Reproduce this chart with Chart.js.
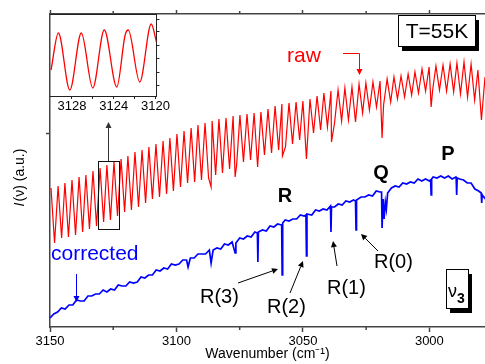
<!DOCTYPE html>
<html>
<head>
<meta charset="utf-8">
<script src="https://cdn.jsdelivr.net/npm/chart.js@4.4.0/dist/chart.umd.min.js"></script>
<style>
  html, body { margin: 0; padding: 0; background: #fff; }
  #wrap { position: relative; width: 485px; height: 364px; }
  #main, #inset { position: absolute; left: 0; top: 0; }
</style>
</head>
<body>
<div id="wrap">
  <canvas id="main" width="485" height="364"></canvas>
  <canvas id="inset" width="170" height="115"></canvas>
</div>
<script>
"use strict";

// raw spectrum: fringe maxima / minima (plus the absorption dips)
var rawWavenumber = [
  3149.6, 3148.2, 3146.8, 3145.4, 3144.1, 3142.7, 3141.3, 3139.9, 3138.5, 3137.1,
  3135.8, 3134.4, 3133.0, 3131.6, 3130.2, 3128.8, 3127.5, 3126.1, 3124.7, 3123.3,
  3121.9, 3120.5, 3119.2, 3117.8, 3116.4, 3115.0, 3113.6, 3112.2, 3110.9, 3109.5,
  3108.1, 3106.7, 3105.3, 3103.9, 3102.6, 3101.2, 3099.8, 3098.4, 3097.0, 3095.6,
  3094.2, 3092.8, 3091.5, 3090.1, 3088.7, 3087.3, 3086.3, 3085.9, 3084.5, 3083.2, 3081.8,
  3080.4, 3079.0, 3077.6, 3076.8, 3076.2, 3074.9, 3073.5, 3072.1, 3070.7,
  3069.3, 3067.9, 3066.6, 3065.2, 3063.8, 3062.4, 3061.0, 3059.6, 3058.3, 3058.1, 3056.9,
  3055.5, 3054.1, 3052.7, 3051.3, 3050.0, 3048.6, 3047.2, 3045.8, 3044.4, 3043.0,
  3041.7, 3040.3, 3038.9, 3038.7, 3037.5, 3036.1, 3034.7, 3033.4, 3032.0, 3030.6, 3029.2,
  3027.8, 3026.4, 3025.1, 3023.7, 3022.3, 3020.9, 3019.5, 3018.7, 3018.1, 3016.7, 3015.3,
  3014.0, 3012.6, 3011.2, 3009.8, 3008.4, 3007.0, 3005.7, 3004.3, 3002.9, 3001.5,
  3000.1, 2999.3, 2998.7, 2997.4, 2996.0, 2994.6, 2993.2, 2991.8, 2990.4, 2989.1, 2987.7,
  2986.3, 2984.9, 2983.5, 2982.1, 2980.8, 2979.4, 2978.0
];
var rawIntensity = [
  139, 84, 141, 89, 144, 90, 147, 92, 150, 95,
  152, 98, 156, 101, 159, 105, 162, 107, 165, 111,
  168, 115, 171, 117, 175, 120, 177, 124, 180, 128,
  183, 130, 186, 133, 189, 136, 193, 140, 196, 144,
  199, 145, 202, 147, 204, 149, 140, 206, 152, 208, 154,
  209, 158, 211, 150, 162, 212, 165, 213, 167,
  214, 160, 215, 172, 218, 174, 221, 177, 223, 171, 180,
  224, 183, 225, 187, 226, 168, 228, 194, 231, 197,
  234, 200, 236, 185, 204, 237, 206, 239, 207, 240, 205,
  243, 214, 244, 217, 245, 220, 246, 189, 222, 248, 225,
  250, 228, 251, 230, 253, 232, 255, 234, 258, 236,
  260, 220, 237, 261, 237, 262, 236, 263, 235, 264, 233,
  265, 230, 263, 227, 257, 207, 250
];

// corrected spectrum
var corrWavenumber = [
  3150.0, 3148.5, 3147.0, 3145.5, 3144.0, 3142.5, 3141.0, 3139.5, 3138.0, 3136.5,
  3135.0, 3133.5, 3132.0, 3130.5, 3129.0, 3127.5, 3126.0, 3124.5, 3123.0, 3121.5,
  3120.0, 3118.5, 3117.0, 3115.5, 3114.0, 3112.5, 3111.0, 3109.5, 3108.0, 3106.5,
  3105.0, 3103.5, 3102.0, 3100.5, 3099.0, 3097.5, 3096.0, 3095.4, 3094.5, 3093.0,
  3091.5, 3090.0, 3088.5, 3087.0, 3086.3, 3085.5, 3084.0, 3082.5, 3081.0, 3079.5,
  3078.0, 3076.8, 3076.5, 3075.0, 3073.5, 3072.0, 3070.5, 3069.0, 3068.0, 3067.8, 3067.6,
  3066.0, 3064.5, 3063.0, 3061.5, 3060.0, 3058.5, 3058.4, 3058.2, 3058.0, 3057.0, 3055.5, 3054.0,
  3052.5, 3051.0, 3049.5, 3048.8, 3048.6, 3048.4, 3046.5, 3045.0, 3043.5, 3042.0, 3040.5,
  3039.1, 3038.9, 3038.7, 3037.5, 3036.0, 3034.5, 3033.0, 3031.5, 3030.0, 3029.2, 3029.0, 3028.8,
  3027.0, 3025.5, 3024.0, 3022.5, 3021.0, 3019.5, 3018.9, 3018.7, 3018.3, 3017.9, 3017.4,
  3017.0, 3016.5, 3015.0, 3013.5, 3012.0, 3010.5, 3009.0, 3007.5, 3006.0, 3004.5,
  3003.0, 3001.5, 3000.0, 2999.5, 2999.3, 2999.1, 2998.5, 2997.0, 2995.5, 2994.0, 2992.5, 2991.0,
  2989.5, 2989.4, 2989.2, 2989.0, 2988.0, 2986.5, 2985.0, 2983.5, 2982.0, 2980.5, 2979.5, 2979.3, 2979.1,
  2977.5
];
var corrIntensity = [
  9, 13, 15, 19, 18, 22, 22, 27, 26, 26,
  31, 31, 33, 33, 37, 35, 38, 37, 42, 41,
  41, 45, 44, 45, 50, 49, 52, 52, 57, 56,
  59, 58, 63, 62, 63, 67, 67, 60, 69, 69,
  73, 73, 73, 77, 64, 77, 79, 78, 83, 82,
  85, 74, 84, 89, 88, 91, 90, 95, 94, 65, 95,
  97, 96, 101, 100, 103, 102, 103, 52, 104, 107, 106, 108,
  108, 112, 111, 112, 71, 113, 112, 117, 116, 118, 117,
  121, 95, 120, 120, 123, 122, 126, 125, 127, 126, 97, 127,
  130, 130, 132, 131, 136, 135, 135, 99, 128, 108, 125,
  118, 134, 139, 141, 140, 144, 143, 145, 144, 148,
  146, 148, 146, 147, 132, 148, 150, 149, 151, 149, 151, 148,
  150, 149, 132, 149, 148, 147, 144, 144, 138, 136, 134, 124, 132,
  127
];

// inset: zoom of the raw fringes
var insetWavenumber = [3130.0, 3129.3, 3128.2, 3127.1, 3126.0, 3124.9, 3123.7, 3122.9, 3122.6, 3121.5, 3120.4, 3119.9];
var insetIntensity = [26, 63, 6, 63, 8, 66, 9, 61, 66, 14, 72, 54];

var xMin = 2978, xMax = 3150;
var xMajorTicks = [3150, 3100, 3050, 3000];
var xMinorTicks = [3125, 3075, 3025];
var insetTicks = [3128, 3126, 3124, 3122, 3120];

var axisColor = '#444';
var family = '"Liberation Sans", Arial, sans-serif';
Chart.defaults.font.family = family;

function toPoints(xs, ys) {
    return xs.map(function(x, i) { return { x: x, y: ys[i] }; });
}

function arrow(ctx, x1, y1, x2, y2, color) {
    var a = Math.atan2(y2 - y1, x2 - x1), h = 6, w = 3;
    var bx = x2 - h * Math.cos(a), by = y2 - h * Math.sin(a);
    ctx.strokeStyle = color;
    ctx.fillStyle = color;
    ctx.lineWidth = 1;
    ctx.beginPath();
    ctx.moveTo(x1, y1);
    ctx.lineTo(bx, by);
    ctx.stroke();
    ctx.beginPath();
    ctx.moveTo(x2, y2);
    ctx.lineTo(bx + w * Math.sin(a), by - w * Math.cos(a));
    ctx.lineTo(bx - w * Math.sin(a), by + w * Math.cos(a));
    ctx.closePath();
    ctx.fill();
}

function shadowBox(ctx, x, y, w, h) {
    ctx.fillStyle = '#000';
    ctx.fillRect(x + 4, y + 5, w, h);
    ctx.fillStyle = '#fff';
    ctx.fillRect(x, y, w, h);
    ctx.strokeStyle = '#000';
    ctx.lineWidth = 1;
    ctx.strokeRect(x + 0.5, y + 0.5, w, h);
    ctx.fillStyle = '#000';
}

//Minor ticks on the bottom and top axes, and the y title with the italic I
var axisExtras = {
    id: 'axisExtras',
    afterDraw: function(chart) {
        var ctx = chart.ctx, area = chart.chartArea, sx = chart.scales.x;
        ctx.save();
        ctx.strokeStyle = axisColor;
        ctx.lineWidth = 1.5;
        xMinorTicks.forEach(function(v) {
            var px = sx.getPixelForValue(v);
            ctx.beginPath();
            ctx.moveTo(px, area.bottom);
            ctx.lineTo(px, area.bottom + 3);
            ctx.moveTo(px, area.top);
            ctx.lineTo(px, area.top - 3);
            ctx.stroke();
        });

        ctx.translate(20, 178);
        ctx.rotate(-Math.PI / 2);
        ctx.fillStyle = '#000';
        ctx.textBaseline = 'middle';
        ctx.font = 'italic 14px ' + family;
        var w1 = ctx.measureText('I').width;
        ctx.font = '14px ' + family;
        var w2 = ctx.measureText('(\u03bd) (a.u.)').width;
        var start = -(w1 + w2) / 2;
        ctx.font = 'italic 14px ' + family;
        ctx.fillText('I', start, 0);
        ctx.font = '14px ' + family;
        ctx.fillText('(\u03bd) (a.u.)', start + w1 + 1, 0);
        ctx.restore();
    }
};

//Labels, arrows and boxes drawn over the plot
var decorations = {
    id: 'decorations',
    afterDraw: function(chart) {
        var ctx = chart.ctx;
        ctx.save();

        ctx.fillStyle = '#ff0000';
        ctx.font = '21px ' + family;
        ctx.fillText('raw', 287, 62);
        ctx.strokeStyle = '#ff0000';
        ctx.lineWidth = 1;
        ctx.beginPath();
        ctx.moveTo(343, 53.5);
        ctx.lineTo(359.5, 53.5);
        ctx.stroke();
        arrow(ctx, 359.5, 53.5, 359.5, 75, '#ff0000');

        ctx.fillStyle = '#0000ff';
        ctx.font = '21px ' + family;
        ctx.fillText('corrected', 51, 260);
        arrow(ctx, 76.5, 274, 76.5, 302, '#0000ff');

        arrow(ctx, 108.5, 161, 108.5, 122, '#333');
        ctx.strokeStyle = '#111';
        ctx.lineWidth = 1;
        ctx.strokeRect(98.5, 161.5, 21, 68);

        shadowBox(ctx, 398, 15, 77, 31);
        ctx.font = '21px ' + family;
        ctx.textAlign = 'center';
        ctx.fillText('T=55K', 437, 38);

        shadowBox(ctx, 446, 269, 22, 39);
        ctx.textAlign = 'left';
        ctx.font = '18px ' + family;
        ctx.fillText('\u03bd', 448, 297);
        ctx.font = 'bold 14px ' + family;
        ctx.fillText('3', 457, 303);

        ctx.textAlign = 'center';
        ctx.font = 'bold 20px ' + family;
        ctx.fillText('R', 285, 202);
        ctx.fillText('Q', 381, 179);
        ctx.fillText('P', 448, 160);

        ctx.textAlign = 'left';
        ctx.font = '20px ' + family;
        ctx.fillText('R(3)', 200, 303);
        ctx.fillText('R(2)', 267, 313);
        ctx.fillText('R(1)', 327, 294);
        ctx.fillText('R(0)', 374, 268);
        arrow(ctx, 238, 283, 278, 269, '#000');
        arrow(ctx, 290, 293, 303, 261, '#000');
        arrow(ctx, 337, 266, 333, 241, '#000');
        arrow(ctx, 378, 251, 361, 234, '#000');

        ctx.restore();
    }
};

var mainChart = new Chart(document.getElementById('main'), {
    type: 'line',
    data: {
        datasets: [{
            label: 'raw',
            data: toPoints(rawWavenumber, rawIntensity),
            borderColor: '#ff0000',
            borderWidth: 1.2,
            pointRadius: 0,
            tension: 0
        }, {
            label: 'corrected',
            data: toPoints(corrWavenumber, corrIntensity),
            borderColor: '#0000ff',
            borderWidth: 1.7,
            pointRadius: 0,
            tension: 0
        }]
    },
    options: {
        responsive: false,
        animation: false,
        events: [],
        layout: { padding: 0 },
        plugins: { legend: { display: false }, tooltip: { enabled: false } },
        scales: {
            x: {
                type: 'linear', position: 'bottom', min: xMin, max: xMax, reverse: true,
                afterBuildTicks: function(s) { s.ticks = xMajorTicks.map(function(v) { return { value: v }; }); },
                afterFit: function(s) { s.height = 37; },
                ticks: { color: '#000', font: { size: 13 }, padding: 2, maxRotation: 0,
                         callback: function(v) { return String(v); } },
                grid: { drawOnChartArea: false, tickLength: 5, color: axisColor, tickWidth: 1.5 },
                border: { color: axisColor, width: 1.5 },
                title: { display: true, text: 'Wavenumber (cm\u207b\u00b9)', color: '#000',
                         font: { size: 14 }, padding: { top: 0, bottom: 1 } }
            },
            xTop: {
                type: 'linear', position: 'top', min: xMin, max: xMax, reverse: true,
                afterBuildTicks: function(s) { s.ticks = xMajorTicks.map(function(v) { return { value: v }; }); },
                afterFit: function(s) { s.height = 14; },
                ticks: { display: false },
                grid: { drawOnChartArea: false, tickLength: 4, color: axisColor, tickWidth: 1.5 },
                border: { color: axisColor, width: 1.5 }
            },
            y: {
                type: 'linear', position: 'left', min: 0, max: 313,
                afterBuildTicks: function(s) { s.ticks = [{ value: 194 }]; },
                afterFit: function(s) { s.width = 50; },
                ticks: { display: false },
                grid: { drawOnChartArea: false, tickLength: 4, color: axisColor, tickWidth: 1.5 },
                border: { color: axisColor, width: 1.5 }
            }
        }
    },
    plugins: [axisExtras, decorations]
});

var insetChart = new Chart(document.getElementById('inset'), {
    type: 'line',
    data: {
        datasets: [{
            data: toPoints(insetWavenumber, insetIntensity),
            borderColor: '#ff0000',
            borderWidth: 1.3,
            pointRadius: 0,
            cubicInterpolationMode: 'monotone'
        }]
    },
    options: {
        responsive: false,
        animation: false,
        events: [],
        layout: { padding: 0 },
        plugins: { legend: { display: false }, tooltip: { enabled: false } },
        scales: {
            x: {
                type: 'linear', position: 'bottom', min: 3119.9, max: 3130.1, reverse: true,
                afterBuildTicks: function(s) { s.ticks = insetTicks.map(function(v) { return { value: v }; }); },
                afterFit: function(s) { s.height = 19; },
                ticks: { color: '#000', font: { size: 13 }, padding: 0, maxRotation: 0, autoSkip: false,
                         callback: function(v) { return v % 4 === 0 ? String(v) : ''; } },
                grid: { drawOnChartArea: false, tickLength: 3, color: '#222' },
                border: { color: '#222', width: 1 }
            },
            xTop: {
                type: 'linear', position: 'top', min: 3119.9, max: 3130.1,
                afterFit: function(s) { s.height = 14; },
                ticks: { display: false },
                grid: { drawOnChartArea: false, drawTicks: false },
                border: { color: '#222', width: 1 }
            },
            y: {
                type: 'linear', position: 'left', min: 0, max: 82,
                afterFit: function(s) { s.width = 50; },
                ticks: { display: false },
                grid: { drawOnChartArea: false, drawTicks: false },
                border: { display: false }
            },
            yRight: {
                type: 'linear', position: 'right', min: 0, max: 82,
                afterBuildTicks: function(s) { s.ticks = [11, 24, 38, 51, 64, 76].map(function(v) { return { value: v }; }); },
                afterFit: function(s) { s.width = 7; },
                ticks: { display: false },
                grid: { drawOnChartArea: false, tickLength: 3, color: '#222' },
                border: { color: '#222', width: 1 }
            }
        }
    }
});
</script>
</body>
</html>
